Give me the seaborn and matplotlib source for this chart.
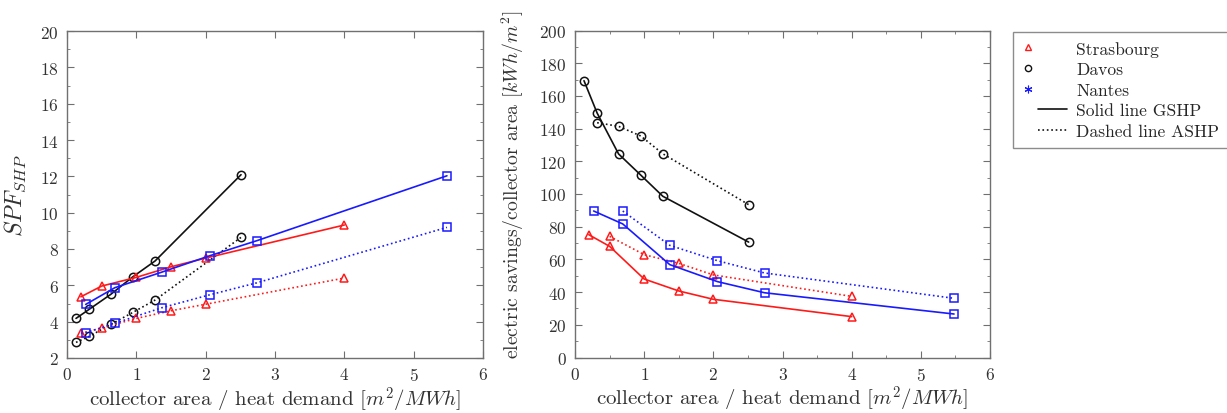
import numpy as np
import pandas as pd
import seaborn as sns
import matplotlib as mpl
from matplotlib import pyplot as plt
from matplotlib.lines import Line2D
from matplotlib.legend_handler import HandlerLine2DCompound

sns.set_style("ticks", {"xtick.direction": "in", "ytick.direction": "in"})
mpl.rcParams['font.family'] = ['cmr10', 'DejaVu Serif']
mpl.rcParams['mathtext.fontset'] = 'cm'
mpl.rcParams['axes.formatter.use_mathtext'] = True
mpl.rcParams['axes.edgecolor'] = '#707070'
mpl.rcParams['xtick.color'] = '#707070'
mpl.rcParams['ytick.color'] = '#707070'
mpl.rcParams['xtick.labelcolor'] = '#333333'
mpl.rcParams['ytick.labelcolor'] = '#333333'
mpl.rcParams['axes.labelcolor'] = '#333333'

# collector area / heat demand
x_stras = [0.2, 0.5, 1.0, 1.5, 2.0, 4.0]
x_davos = [0.13, 0.32, 0.63, 0.95, 1.27, 2.51]
x_nantes = [0.27, 0.69, 1.37, 2.06, 2.74, 5.48]

# SPF_SHP
spf_stras_gshp = [5.37, 5.96, 6.44, 7.02, 7.5, 9.32]
spf_stras_ashp = [3.36, 3.65, 4.18, 4.6, 4.96, 6.4]
spf_davos_gshp = [4.18, 4.68, 5.5, 6.47, 7.34, 12.09]
spf_davos_ashp = [2.86, 3.19, 3.85, 4.51, 5.19, 8.64]
spf_nantes_gshp = [4.95, 5.87, 6.73, 7.63, 8.46, 12.03]
spf_nantes_ashp = [3.39, 3.91, 4.77, 5.48, 6.14, 9.19]

# electric savings / collector area (ASHP series start at 2nd size)
sav_stras_gshp = [75.1, 68.0, 48.0, 40.7, 35.6, 25.0]
sav_stras_ashp = [74.1, 62.9, 57.6, 50.5, 37.4]
sav_davos_gshp = [169.3, 149.5, 124.5, 111.6, 98.6, 70.6]
sav_davos_ashp = [143.6, 141.4, 135.5, 124.6, 93.5]
sav_nantes_gshp = [89.6, 81.7, 56.8, 46.4, 39.6, 26.6]
sav_nantes_ashp = [89.6, 68.6, 59.2, 51.7, 36.2]

red = '#ff1a1a'
blue = '#1a1aff'
black = '#111111'

fig = plt.figure(figsize=(12.27, 4.14), dpi=100)
ax1 = fig.add_axes([67/1227, 1-359/414, 416/1227, 327/414])
ax2 = fig.add_axes([575/1227, 1-358.5/414, 415/1227, 327/414])


def draw(ax, x, y, color, marker, ls):
    df = pd.DataFrame({'x': x, 'y': y})
    sns.lineplot(data=df, x='x', y='y', ax=ax, color=color, linestyle=ls,
                 marker=marker, markersize=6, markerfacecolor='none',
                 markeredgecolor=color, markeredgewidth=1.1, linewidth=1.2,
                 sort=False, estimator=None)


# left: SPF
draw(ax1, x_davos, spf_davos_gshp, black, 'o', '-')
draw(ax1, x_davos, spf_davos_ashp, black, 'o', ':')
draw(ax1, x_stras, spf_stras_gshp, red, '^', '-')
draw(ax1, x_stras, spf_stras_ashp, red, '^', ':')
draw(ax1, x_nantes, spf_nantes_gshp, blue, 's', '-')
draw(ax1, x_nantes, spf_nantes_ashp, blue, 's', ':')

# right: savings
draw(ax2, x_davos, sav_davos_gshp, black, 'o', '-')
draw(ax2, x_davos[1:], sav_davos_ashp, black, 'o', ':')
draw(ax2, x_stras, sav_stras_gshp, red, '^', '-')
draw(ax2, x_stras[1:], sav_stras_ashp, red, '^', ':')
draw(ax2, x_nantes, sav_nantes_gshp, blue, 's', '-')
draw(ax2, x_nantes[1:], sav_nantes_ashp, blue, 's', ':')

ax1.set_xlim(0, 6)
ax1.set_ylim(2, 20)
ax1.set_xticks(range(0, 7))
ax1.set_yticks(range(2, 21, 2))
ax1.set_yticks(range(2, 21, 1), minor=True)
ax1.set_xlabel('collector area / heat demand [$m^2/MWh$]', fontsize=15, labelpad=1)
ax1.set_ylabel('$SPF_{SHP}$', fontsize=17)
ax1.yaxis.set_label_coords(-0.093, 0.5)

ax2.set_xlim(0, 6)
ax2.set_ylim(0, 200)
ax2.set_xticks(range(0, 7))
ax2.set_xticks(np.arange(0, 6.01, 0.5), minor=True)
ax2.set_yticks(range(0, 201, 20))
ax2.set_yticks(range(0, 201, 10), minor=True)
ax2.set_xlabel('collector area / heat demand [$m^2/MWh$]', fontsize=15, labelpad=1)
ax2.set_ylabel('electric savings/collector area [$kWh/m^2$]', fontsize=14.2)
ax2.yaxis.set_label_coords(-0.118, 0.53)

for ax in (ax1, ax2):
    for s in ax.spines.values():
        s.set_visible(True)
        s.set_linewidth(1.0)
    ax.tick_params(which='both', top=True, right=True, direction='in')
    ax.tick_params(which='major', length=5, labelsize=12.5, pad=6)
    ax.tick_params(which='minor', length=2.5)


class LeftMarkerHandler(HandlerLine2DCompound):
    # marker sits left of the line sample, like the original legend
    def get_xdata(self, legend, xdescent, ydescent, width, height, fontsize):
        x0 = -xdescent
        return [x0 + 0.35 * width, x0 + width], [x0 + 0.13 * width]


handles = [
    Line2D([], [], color=red, marker='^', linestyle='none', markersize=4.5,
           markerfacecolor='none', markeredgewidth=1),
    Line2D([], [], color=black, marker='o', linestyle='none', markersize=4.5,
           markerfacecolor='none', markeredgewidth=1),
    Line2D([], [], color=blue, marker=(6, 2, 0), linestyle='none', markersize=5.5,
           markeredgewidth=0.8),
    Line2D([], [], color=black, linestyle='-', linewidth=1.2),
    Line2D([], [], color=black, linestyle=':', linewidth=1.2),
]
labels = ['Strasbourg', 'Davos', 'Nantes', 'Solid line GSHP', 'Dashed line ASHP']
# sizes in points at 12.6 pt font: 1 em = 17.5 px
fig.legend(handles, labels, loc='upper left',
           bbox_to_anchor=(1013/1227, 1-33/414), fontsize=12.6,
           handler_map={Line2D: LeftMarkerHandler()},
           frameon=True, fancybox=False, edgecolor='#707070',
           handlelength=2.6, handletextpad=0.5, labelspacing=0.3,
           borderpad=0.5, borderaxespad=0)

fig.savefig('out.png', dpi=100)
